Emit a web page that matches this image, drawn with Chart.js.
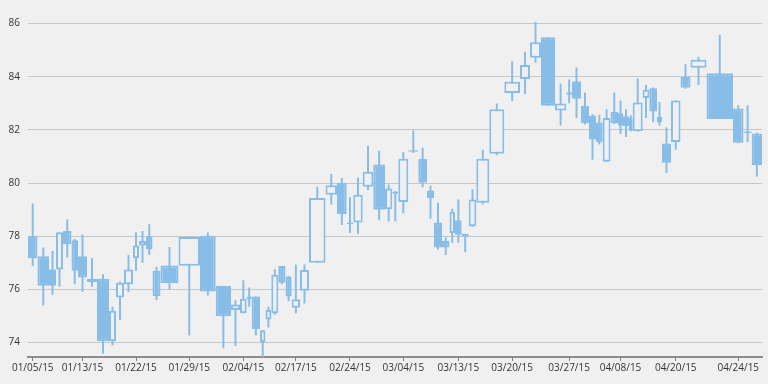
<!DOCTYPE html>
<html>
<head>
<meta charset="utf-8">
<script src="https://cdn.jsdelivr.net/npm/chart.js@4.4.1/dist/chart.umd.min.js"></script>
<style>
html,body{margin:0;padding:0;background:#f0f0f0;}
#wrap{width:768px;height:384px;position:relative;}
</style>
</head>
<body>
<div id="wrap"><canvas id="c"></canvas></div>
<script>
// ---- data ----
const dates = [
 '01/05/15','01/06/15','01/07/15','01/08/15','01/09/15','01/12/15','01/13/15','01/14/15','01/15/15','01/16/15',
 '01/20/15','01/21/15','01/22/15','01/23/15','01/26/15','01/27/15','01/28/15','01/29/15','01/30/15','02/02/15',
 '02/03/15','02/04/15','02/05/15','02/06/15','02/09/15','02/10/15','02/11/15','02/12/15','02/13/15','02/17/15',
 '02/18/15','02/19/15','02/20/15','02/23/15','02/24/15','02/25/15','02/26/15','02/27/15','03/02/15','03/03/15',
 '03/04/15','03/05/15','03/06/15','03/09/15','03/10/15','03/11/15','03/12/15','03/13/15','03/16/15','03/17/15',
 '03/18/15','03/19/15','03/20/15','03/23/15','03/24/15','03/25/15','03/26/15','03/27/15','03/30/15','03/31/15',
 '04/01/15','04/02/15','04/06/15','04/07/15','04/08/15','04/09/15','04/10/15','04/13/15','04/14/15','04/15/15',
 '04/16/15','04/17/15','04/20/15','04/21/15','04/22/15','04/23/15','04/24/15','04/27/15','04/28/15'
];
const opens = [
 78.00,77.25,76.75,76.75,78.20,77.85,77.25,76.40,76.40,74.05,
 75.70,76.20,77.17,77.65,78.00,76.70,76.90,76.89,78.02,76.13,
 75.23,75.11,75.62,75.74,74.02,74.87,75.11,76.88,76.49,75.31,
 75.95,77.00,79.56,80.00,78.45,78.52,79.86,80.70,79.02,79.60,
 79.29,81.18,80.92,79.72,78.52,77.82,78.12,78.60,77.99,78.38,
 79.26,81.10,83.39,83.92,84.71,85.49,82.73,83.42,83.83,82.91,
 82.53,82.28,80.80,82.67,82.63,82.51,82.45,81.95,83.20,83.57,
 82.49,81.49,81.55,83.99,84.34,84.13,82.81,81.88,81.87
];
const highs = [
 79.23,77.58,77.45,78.15,78.63,77.90,78.07,77.17,76.57,75.35,
 76.30,77.30,78.15,78.20,78.45,76.85,77.60,78.00,78.14,76.13,
 75.59,76.35,76.07,75.74,74.47,75.35,76.76,76.88,76.50,76.94,
 76.94,79.86,80.34,80.19,79.47,80.20,81.40,81.22,79.95,79.70,
 81.16,81.99,81.33,79.90,79.26,77.95,79.04,79.38,78.09,79.77,
 81.25,82.99,84.58,84.94,86.06,85.49,83.75,83.90,84.35,83.41,
 82.60,82.57,82.78,83.41,83.11,82.78,82.55,83.93,83.69,83.60,
 83.05,82.09,83.11,84.47,84.74,85.58,82.93,82.93,81.90
];
const lows = [
 76.87,75.40,75.80,76.10,77.20,76.20,75.90,76.10,73.58,73.90,
 74.85,75.90,76.70,77.00,77.30,75.60,76.00,74.27,75.77,73.79,
 73.87,75.11,75.35,74.27,73.43,74.57,75.05,76.20,75.56,75.11,
 75.47,77.00,79.20,78.42,78.12,78.10,79.74,78.60,78.56,78.56,
 78.86,81.13,79.84,78.66,77.50,77.30,77.75,77.76,77.40,78.35,
 79.20,81.05,83.09,83.35,84.53,82.91,82.17,83.00,82.45,82.20,
 80.88,81.45,80.80,82.22,81.85,81.73,81.95,81.94,82.45,82.29,
 82.17,80.38,81.25,83.55,83.69,82.41,81.50,81.55,80.25
];
const closes = [
 77.17,76.14,76.14,78.15,77.70,76.70,76.45,76.28,74.05,75.20,
 76.25,76.75,77.65,77.82,77.50,75.75,76.24,77.97,75.92,74.99,
 75.43,75.65,75.74,74.51,74.47,75.23,76.55,76.25,75.74,75.63,
 76.73,79.44,79.92,78.84,78.52,79.56,80.43,79.00,79.80,79.67,
 80.92,81.24,80.01,79.44,77.58,77.58,78.92,78.06,78.09,79.38,
 80.92,82.78,83.81,84.44,85.30,82.91,82.99,83.32,83.17,82.25,
 81.64,81.54,82.45,82.25,82.17,82.15,81.97,83.03,83.51,82.69,
 82.29,80.77,83.11,83.59,84.64,82.41,81.52,81.94,80.68
];
// relative volume (candle width in the equivolume layout)
const volumes = [
 9.5,11.5,7,7,8.5,6.5,9,10,12,7,
 8,9,6,7,6.5,8,18,21.5,15.7,15.3,
 9,6.7,5,8.3,5.5,5.8,7,7.2,6.2,8.3,
 9,16.5,11.5,9.7,6.6,9.4,10.6,11.7,7.3,6,
 10,10,8.7,7,8,7.5,5.5,6.7,7,7.6,
 13,15,15.7,10,11,14,11.3,5.7,9,8,
 7,6.7,7.8,7.5,5,6,3.7,10,6.6,7.7,
 5,9,9.5,10,16,26.5,10.5,8.2,10.3
];
const tickLabels = ['01/05/15','01/13/15','01/22/15','01/29/15','02/04/15','02/17/15','02/24/15',
  '03/04/15','03/13/15','03/20/15','03/27/15','04/08/15','04/20/15','04/24/15'];
const yTicks = [74,76,78,80,82,84,86];

// ---- derived from data ----
const edges = [0];
volumes.forEach(v => edges.push(edges[edges.length-1] + v));
const total = edges[edges.length-1];
const centers = volumes.map((v,i) => edges[i] + v/2);

// body bars: boundaries (null) interleaved with candle centres so that 'flex' bars span exactly one volume slot
const bodyData = [];
edges.forEach((e,i) => {
  bodyData.push({x: e, y: null});
  if (i < volumes.length) bodyData.push({x: centers[i], y: [opens[i], closes[i]]});
});
// wicks: vertical line segments separated by gaps
const wickData = [];
centers.forEach((c,i) => {
  wickData.push({x: c, y: lows[i]}, {x: c, y: highs[i]}, {x: c, y: null});
});

const BLUE = '#88bde8';
const BG = '#f0f0f0';
const FONT = {family: "'Open Sans', 'Noto Sans', sans-serif", size: 10};

new Chart(document.getElementById('c'), {
  type: 'bar',
  data: {
    datasets: [
      {
        type: 'bar',
        label: 'body',
        data: bodyData,
        order: 0,
        barThickness: 'flex',
        categoryPercentage: 2,
        barPercentage: 1,
        borderWidth: 2,
        borderSkipped: false,
        inflateAmount: 0,
        borderColor: BLUE,
        backgroundColor: ctx => {
          const d = ctx.raw;
          if (!d || !Array.isArray(d.y)) return BLUE;
          return d.y[1] > d.y[0] ? BG : BLUE;
        }
      },
      {
        type: 'line',
        label: 'wick',
        data: wickData,
        order: 1,
        borderColor: BLUE,
        borderWidth: 2,
        pointRadius: 0,
        spanGaps: false,
        fill: false,
        tension: 0
      }
    ]
  },
  options: {
    responsive: true,
    maintainAspectRatio: false,
    animation: false,
    events: [],
    layout: {padding: {left: 0, right: 6, top: 0, bottom: 0}},
    plugins: {legend: {display: false}, tooltip: {enabled: false}},
    scales: {
      x: {
        type: 'linear',
        min: 0,
        max: total,
        offset: false,
        grid: {drawOnChartArea: false, drawTicks: true, tickLength: 4, color: '#808080', offset: false},
        border: {display: true, color: '#8c8c8c', width: 2},
        ticks: {
          autoSkip: false, maxRotation: 0, minRotation: 0, padding: 1,
          color: '#333', font: FONT,
          callback: (v, i) => tickLabels[i]
        },
        afterBuildTicks: s => { s.ticks = tickLabels.map(l => ({value: centers[dates.indexOf(l)]})); },
        afterFit: s => { s.height = 27; }
      },
      y: {
        type: 'linear',
        min: 73.46,
        max: 86.36,
        grid: {color: '#c6c6c6', lineWidth: 1, drawTicks: false},
        border: {display: false},
        ticks: {padding: 8, color: '#333', font: FONT, callback: v => v},
        afterBuildTicks: s => { s.ticks = yTicks.map(v => ({value: v})); },
        afterFit: s => { s.width = 28; }
      }
    }
  }
});
</script>
</body>
</html>
